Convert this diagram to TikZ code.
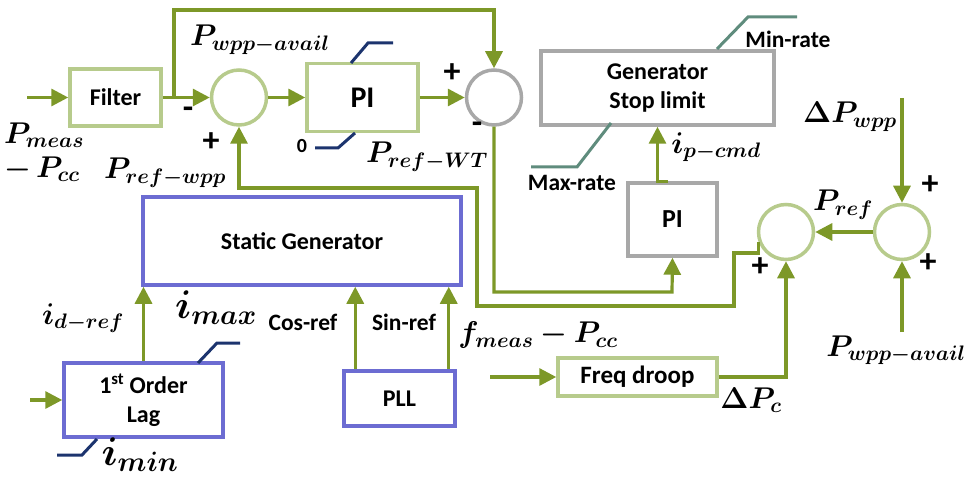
\RequirePackage{fix-cm}
\documentclass[tikz,border=0pt]{standalone}
\usepackage{bm}
\usepackage{fontspec}
\setmainfont{Carlito}
\usetikzlibrary{arrows.meta,calc}
\definecolor{garrow}{RGB}{125,152,40}
\definecolor{lgreen}{RGB}{183,203,140}
\definecolor{gbox}{RGB}{168,168,168}
\definecolor{bbox}{RGB}{108,108,210}
\definecolor{navyl}{RGB}{28,52,110}
\definecolor{ratecol}{RGB}{95,140,125}
\newcommand\myboxfont{\fontsize{24}{29}\selectfont\bfseries}
\newcommand\mysmallfont{\fontsize{23.5}{27}\selectfont\bfseries}
\newcommand\mymathfont{\fontsize{30}{34}\selectfont}
\newcommand\mybigmath{\fontsize{40}{44}\selectfont}
\tikzset{
  gline/.style={draw=garrow, line width=3.2pt},
  arr/.style={gline, -{Triangle[length=17pt,width=17pt]}},
  boxbase/.style={rectangle, fill=white, line width=3.5pt, inner sep=0pt, font=\myboxfont, align=center},
  lgbox/.style={boxbase, draw=lgreen},
  grbox/.style={boxbase, draw=gbox},
  blbox/.style={boxbase, draw=bbox},
  sumg/.style={circle, draw=lgreen, line width=3.5pt, minimum size=55pt, inner sep=0pt, fill=white},
  sumgr/.style={sumg, draw=gbox},
  lim/.style={draw=navyl, line width=3pt},
  rlim/.style={draw=ratecol, line width=3pt},
  sgn/.style={font=\fontsize{34}{36}\selectfont\bfseries, inner sep=0pt},
  lbl/.style={font=\mymathfont, inner sep=0pt},
  txt/.style={font=\mysmallfont, inner sep=0pt},
}
\begin{document}
\begin{tikzpicture}[x=1pt,y=-1pt]
\useasboundingbox (0,0) rectangle (969,481);

% blocks
\node[lgbox, minimum width=91pt, minimum height=57pt] (filter) at (115.5,97.5) {Filter};
\node[sumg] (s1) at (239,97.5) {};
\node[lgbox, minimum width=111pt, minimum height=68pt, font=\fontsize{30}{34}\selectfont\bfseries] (pi1) at (362.5,97.5) {PI};
\node[sumgr] (s2) at (494,97.5) {};
\node[grbox, minimum width=233pt, minimum height=74pt] (gen) at (657.5,88) {Generator\\Stop limit};
\node[grbox, minimum width=89pt, minimum height=73pt, font=\fontsize{26}{30}\selectfont\bfseries] (pi2) at (672.5,219.5) {PI};
\node[sumg] (s3) at (786,232) {};
\node[sumg] (s4) at (902,232) {};
\node[lgbox, minimum width=159pt, minimum height=38pt, font=\fontsize{25}{29}\selectfont\bfseries] (fd) at (637.5,377) {Freq droop};
\node[blbox, minimum width=318pt, minimum height=88pt] (sg) at (302,241) {Static Generator};
\node[blbox, minimum width=159pt, minimum height=74pt] (lag) at (143.5,400) {1\textsuperscript{st} Order\\Lag};
\node[blbox, minimum width=111pt, minimum height=55pt] (pll) at (399.5,398.5) {PLL};

% free ends
\coordinate (inF) at (27,97.5);
\coordinate (br) at (174,97.5);
\coordinate (inFD) at (490,377);
\coordinate (inDP) at (902,98);
\coordinate (inPA) at (902,332);
\coordinate (inLag) at (30,400);

% connectors
\draw[arr] (inF) -- (filter.west);
\draw[arr] (filter.east) -- (s1.west);
\draw[arr] (br) -- (br |- 0,10) -| (s2.north);
\draw[arr] (s1.east) -- (pi1.west);
\draw[arr] (pi1.east) -- (s2.west);
\draw[arr] (s2.south) |- (672,292) -- (pi2.south);
\draw[arr] ([xshift=-5pt]pi2.north) -| (gen.south);
\draw[arr] (s3.200) |- (734,253) |- (477,306) -- (477,188) -| (s1.south);
\draw[arr] (inFD) -- (fd.west);
\draw[arr] (fd.east) -| (s3.south);
\draw[arr] (s4.west) -- (s3.east);
\draw[arr] (inDP) -- (s4.north);
\draw[arr] (inPA) -- (s4.south);
\draw[arr] (lag.north) -- (lag.north |- sg.south);
\draw[arr] ([xshift=13pt]pll.north west) -- ([xshift=13pt]pll.north west |- sg.south);
\draw[arr] ([xshift=-8pt]pll.north east) -- ([xshift=-8pt]pll.north east |- sg.south);
\draw[arr] (inLag) -- (lag.west);

% limiters
\draw[lim] (351,63) -- (368,43) -- (393,43);
\draw[lim] (355,133) -- (338,148) -- (315,148);
\draw[lim] (198,363) -- (217,343) -- (240,343);
\draw[lim] (97,439) -- (82,455) -- (57,455);
\draw[rlim] (717,49) -- (748,17) -- (797,17);
\draw[rlim] (611,123) -- (577,167) -- (531,167);

% signs
\node[sgn] (m1) at (188,113) {-};
\node[sgn] (p1) at (211,142) {+};
\node[sgn] (p2) at (452,73) {+};
\node[sgn] (m2) at (477,128) {-};
\node[sgn] (p3) at (760,267) {+};
\node[sgn] (p4) at (930,185) {+};
\node[sgn] (p5) at (928,263) {+};

% labels
\node[txt, font=\fontsize{20}{22}\selectfont\bfseries] (zero) at (302,146) {0};
\node[lbl] (lwa) at (260,40) {$\bm{P_{wpp-avail}}$};
\node[lbl, anchor=west, align=left] (lpm) at (4,152) {$\bm{P_{meas}}$\\$\bm{-\,P_{cc}}$};
\node[lbl] (lrw) at (165,173) {$\bm{P_{ref-wpp}}$};
\node[lbl] (lrt) at (427,157) {$\bm{P_{ref-WT}}$};
\node[txt] (lmin) at (788,39) {Min-rate};
\node[txt] (lmax) at (572,183) {Max-rate};
\node[lbl] (lip) at (716,147) {$\bm{i_{p-cmd}}$};
\node[lbl] (ldw) at (850,117) {$\bm{\Delta P_{wpp}}$};
\node[lbl] (lpr) at (843,205) {$\bm{P_{ref}}$};
\node[lbl] (lpa) at (896,350) {$\bm{P_{wpp-avail}}$};
\node[lbl] (ldc) at (751,400) {$\bm{\Delta P_{c}}$};
\node[lbl] (lfm) at (538,335) {$\bm{f_{meas}-P_{cc}}$};
\node[lbl] (lid) at (83,318) {$\bm{i_{d-ref}}$};
\node[lbl, font=\mybigmath] (limax) at (216,308) {$\bm{i_{max}}$};
\node[txt] (lcos) at (303,322) {Cos-ref};
\node[txt] (lsin) at (404,322) {Sin-ref};
\node[lbl, font=\mybigmath] (limin) at (140,455) {$\bm{i_{min}}$};
\end{tikzpicture}
\end{document}
